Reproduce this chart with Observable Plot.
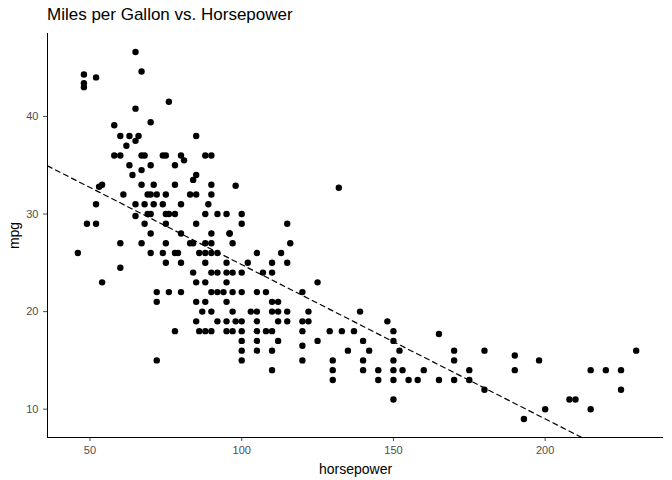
<!DOCTYPE html>
<html><head>
<script src="https://cdn.jsdelivr.net/npm/d3@7"></script>
<script src="https://cdn.jsdelivr.net/npm/@observablehq/plot@0.6"></script>
<style>
body{margin:0;background:#fff;font-family:"Liberation Sans",Arial,sans-serif;}
#t{font-size:17px;padding:5px 0 0 47px;height:26px;color:#000;}
</style></head><body>
<div id="t">Miles per Gallon vs. Horsepower</div>
<div id="c"></div>
<script>
const pts = [[46,26],[48,43.4],[48,44.3],[48,43],[49,29],[52,44],[52,29],[53,32.8],[52,31],[54,33],[54,23],[58,39.1],[58,36],[60,38],[60,36],[60,24.5],[60,27],[61,32],[62,37],[63,35],[63,38],[64,34],[65,46.6],[65,40.8],[65,29.8],[65,31],[65,37.5],[66,38],[67,44.6],[67,36],[67,33],[67,34.5],[68,31],[68,29],[68,36],[69,30],[69,32],[70,39.4],[70,32],[70,30],[70,26],[70,28],[71,33],[71,31],[72,15],[72,21],[72,22],[72,32],[74,36],[74,26],[74,31],[75,36],[75,29],[75,27],[75,25],[75,32],[76,41.5],[76,30],[76,22],[78,18],[78,26],[78,33],[78,30],[79,26],[80,36],[80,31],[80,28],[80,25],[81,35.5],[83,32],[83,27],[84,33.5],[84,27],[84,24],[85,34],[85,38],[85,32],[85,29],[85,21],[85,19],[86,26],[86,18],[87,20],[88,36],[88,26],[88,27],[88,23],[88,18],[88,21],[89,31],[90,24],[90,28],[90,26],[90,32],[90,20],[90,36],[90,18],[90,22],[92,24],[92,19],[92,30],[94,22],[95,24],[95,23],[95,21],[95,19],[95,18],[96,28],[97,24],[97,22],[97,20],[97,18],[98,19],[100,29],[100,24],[100,22],[100,19],[100,18],[100,17],[100,15],[100,16],[102,25],[103,20],[105,26],[105,22],[105,19],[105,18],[105,17],[105,16],[107,24],[108,22],[108,18],[110,21],[110,18],[110,20],[110,16],[110,24],[112,21],[112,19],[112,17],[113,26],[115,29],[115,25],[115,19],[115,20],[116,27],[120,22],[120,19],[120,18],[120,15],[120,16.5],[122,19],[122,20],[125,17],[125,23],[129,18],[130,13],[130,14],[130,15],[132,32.7],[133,18],[135,16],[137,18],[139,20],[140,17],[140,15],[140,14],[142,16],[145,14],[145,13],[148,19],[150,18],[150,14],[150,13],[150,15],[150,11],[150,17],[152,16],[153,14],[155,13],[158,13],[160,14],[165,17.7],[165,13],[170,16],[170,15],[170,13],[175,14],[175,13],[180,16],[180,12],[190,15.5],[190,14],[193,9],[198,15],[200,10],[208,11],[210,11],[215,10],[215,14],[220,14],[225,14],[225,12],[230,16],[90,33],[98,32.9],[88,30],[97,27],[95,25],[90,27],[110,25],[112,20],[85,23],[100,30],[96,28],[92,22],[105,20],[88,25],[75,30],[78,35],[70,35],[67,27],[80,22],[92,26],[95,30],[110,14]];
const horsepower = pts.map(d=>d[0]);
const mpg = pts.map(d=>d[1]);
const xTicks = [50,100,150,200];
const yTicks = [10,20,30,40];
const xDomain = [36,239];
const data = horsepower.map((h,i)=>({horsepower:h, mpg:mpg[i]}));
// least-squares fit from the data
const mx = d3.mean(horsepower), my = d3.mean(mpg);
const slope = d3.sum(data,d=>(d.horsepower-mx)*(d.mpg-my))/d3.sum(data,d=>(d.horsepower-mx)**2);
const icpt = my - slope*mx;
const fit = xDomain.map(x=>({horsepower:x, mpg:icpt+slope*x}));
const chart = Plot.plot({
  width:672, height:449, marginTop:2, marginLeft:47, marginRight:9, marginBottom:43,
  style:{fontFamily:"Liberation Sans, Arial, sans-serif", fontSize:"11px"},
  x:{domain:xDomain, ticks:xTicks, label:"horsepower", labelAnchor:"center", labelArrow:"none", labelOffset:36},
  y:{domain:[7.1,48.5], ticks:yTicks, label:"mpg", labelAnchor:"center", labelArrow:"none", labelOffset:38},
  marks:[
    Plot.axisX({ticks:xTicks, tickSize:4, color:"#4d4d4d", label:"horsepower", labelAnchor:"center", labelArrow:"none", labelOffset:36, fontSize:11}),
    Plot.axisY({ticks:yTicks, tickSize:4, color:"#4d4d4d", label:"mpg", labelAnchor:"center", labelArrow:"none", labelOffset:38, fontSize:11}),
    Plot.line(fit,{x:"horsepower",y:"mpg",stroke:"black",strokeDasharray:"5,4",strokeWidth:1.2,clip:true}),
    Plot.dot(data,{x:"horsepower",y:"mpg",r:3.2,fill:"black",stroke:"none"}),
    Plot.ruleX([xDomain[0]],{stroke:"black"}),
    Plot.ruleY([7.1],{stroke:"black"})
  ]
});
chart.querySelectorAll('[aria-label="x-axis label"] text, [aria-label="y-axis label"] text').forEach(t=>{t.style.fontSize="14px";t.setAttribute("fill","#000");});
document.getElementById("c").appendChild(chart);
</script></body></html>
